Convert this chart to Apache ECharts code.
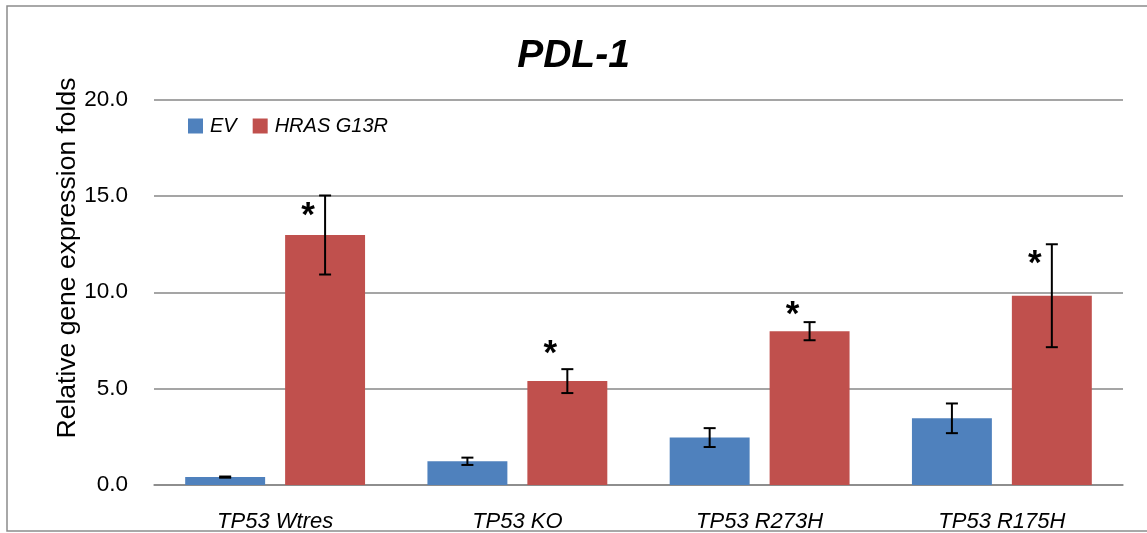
<!DOCTYPE html>
<html>
<head>
<meta charset="utf-8">
<script src="https://cdn.jsdelivr.net/npm/echarts@6/dist/echarts.min.js"></script>
<style>
html,body{margin:0;padding:0;background:#fff;}
#chart{width:1147px;height:533px;}
</style>
</head>
<body>
<div id="chart"></div>
<script>
// ---- data ----
const categories = ['TP53 Wtres', 'TP53 KO', 'TP53 R273H', 'TP53 R175H'];
const seriesNames = ['EV', 'HRAS G13R'];
const evValues = [0.41, 1.23, 2.46, 3.46];
const evErrors = [0.03, 0.19, 0.49, 0.77];
const hrasValues = [12.97, 5.39, 7.98, 9.82];
const hrasErrors = [2.05, 0.62, 0.47, 2.67];
const starLabels = ['*', '*', '*', '*'];
const starLevels = [14.21, 7.06, 9.08, 11.73];
const yTicks = [0, 5, 10, 15, 20];

const FONT = 'Liberation Sans';
const chart = echarts.init(document.getElementById('chart'));

const BAR_FRAC = 0.33, GAP_FRAC = 0.25;
function barOffset(api, idx) {
  const band = api.size([1, 0])[0];
  const w = band * BAR_FRAC;
  const off = (w + w * GAP_FRAC) / 2;
  return idx === 0 ? -off : off;
}
function errSeries(values, errors, idx) {
  return {
    type: 'custom',
    name: seriesNames[idx] + ' error',
    z: 5,
    silent: true,
    data: values.map((v, i) => [i, v - errors[i], v + errors[i]]),
    renderItem: function (params, api) {
      const i = api.value(0);
      const lo = api.coord([i, api.value(1)]);
      const hi = api.coord([i, api.value(2)]);
      const x = lo[0] + barOffset(api, idx);
      const cap = 6;
      const style = { stroke: '#000', lineWidth: 2 };
      return {
        type: 'group',
        children: [
          { type: 'line', shape: { x1: x, y1: lo[1], x2: x, y2: hi[1] }, style: style },
          { type: 'line', shape: { x1: x - cap, y1: lo[1], x2: x + cap, y2: lo[1] }, style: style },
          { type: 'line', shape: { x1: x - cap, y1: hi[1], x2: x + cap, y2: hi[1] }, style: style }
        ]
      };
    }
  };
}

const option = {
  animation: false,
  backgroundColor: '#fff',
  title: {
    text: 'PDL-1',
    left: 'center',
    top: 32,
    textStyle: { fontFamily: FONT, fontSize: 39, fontWeight: 'bold', fontStyle: 'italic', color: '#000' }
  },
  legend: {
    left: 183,
    top: 111,
    itemWidth: 15,
    itemHeight: 15,
    itemGap: 16,
    icon: 'rect',
    data: seriesNames,
    textStyle: { fontFamily: FONT, fontSize: 20, fontStyle: 'italic', color: '#000', padding: [0, 0, 0, 2] }
  },
  grid: { left: 154, right: 24, top: 99.5, bottom: 47.7, containLabel: false },
  xAxis: {
    type: 'category',
    data: categories,
    axisLine: { lineStyle: { color: '#878787', width: 1.5 } },
    axisTick: { show: false },
    axisLabel: { fontFamily: FONT, fontSize: 22, fontStyle: 'italic', color: '#000', margin: 26 }
  },
  yAxis: {
    type: 'value',
    min: 0, max: 20, interval: 5,
    axisLine: { show: false },
    axisTick: { show: false },
    splitLine: { lineStyle: { color: '#878787', width: 1.5 } },
    axisLabel: {
      fontFamily: FONT, fontSize: 22.5, color: '#000', margin: 26,
      formatter: v => yTicks.includes(v) ? v.toFixed(1) : ''
    }
  },
  graphic: [
    { type: 'rect', shape: { x: 7, y: 6, width: 1160, height: 525 }, style: { fill: 'none', stroke: '#8c8c8c', lineWidth: 1.5 }, silent: true },
    {
      type: 'text', x: 68, y: 258, rotation: Math.PI / 2,
      style: { text: 'Relative gene expression folds', fontFamily: FONT, fontSize: 26.5, fill: '#000', textAlign: 'center', textVerticalAlign: 'middle' }
    }
  ],
  series: [
    { type: 'bar', name: seriesNames[0], data: evValues, barWidth: (BAR_FRAC * 100) + '%', barGap: (GAP_FRAC * 100) + '%', itemStyle: { color: '#4F81BD' } },
    { type: 'bar', name: seriesNames[1], data: hrasValues, barWidth: (BAR_FRAC * 100) + '%', barGap: (GAP_FRAC * 100) + '%', itemStyle: { color: '#C0504D' } },
    errSeries(evValues, evErrors, 0),
    errSeries(hrasValues, hrasErrors, 1),
    {
      type: 'custom',
      name: 'stars',
      z: 6,
      silent: true,
      data: starLevels.map((v, i) => [i, v]),
      renderItem: function (params, api) {
        const i = api.value(0);
        const p = api.coord([i, api.value(1)]);
        const x = p[0] + barOffset(api, 1) - 17;
        return {
          type: 'text',
          x: x, y: p[1] - 12,
          style: { text: starLabels[i], fontFamily: FONT, fontSize: 35, fontWeight: 'bold', fill: '#000', textAlign: 'center', textVerticalAlign: 'top' }
        };
      }
    }
  ]
};
chart.setOption(option);
</script>
</body>
</html>
